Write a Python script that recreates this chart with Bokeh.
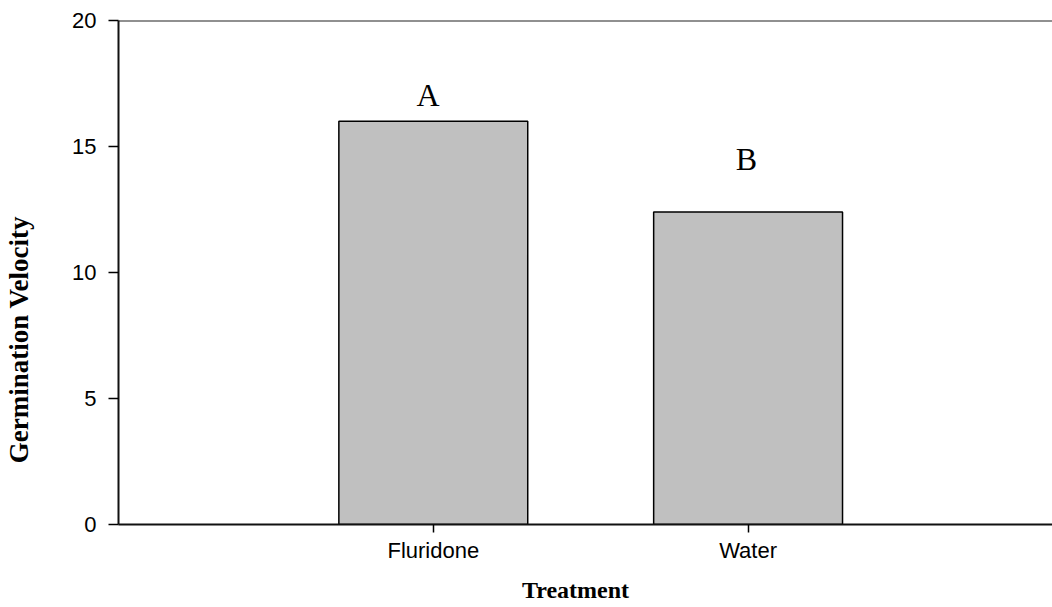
import math
from bokeh.plotting import figure
from bokeh.layouts import row, column
from bokeh.models import ColumnDataSource, Range1d, FixedTicker, Span
from bokeh.core.properties import value
from bokeh.embed import file_html
from bokeh.resources import INLINE

# Data
categories = ["Fluridone", "Water"]
velocity = [16.0, 12.4]
letters = ["A", "B"]
letter_x = [-0.017, -0.005]
letter_y = [17.06, 14.52]
y_ticks = [0, 5, 10, 15, 20]
x_title = "Treatment"
y_title = "Germination Velocity"

xs = list(range(len(categories)))

src = ColumnDataSource(dict(x=xs, top=velocity))
lab = ColumnDataSource(dict(x=[xs[i] + letter_x[i] for i in range(len(xs))], y=letter_y, t=letters))

LEFT_W = 40
MAIN_H = 575
BOTTOM_H = 607 - MAIN_H

p = figure(width=1052 - LEFT_W, height=MAIN_H, output_backend="svg", toolbar_location=None,
           x_range=Range1d(-1.0, 1.967), y_range=Range1d(0, 20),
           min_border_left=118 - LEFT_W, min_border_right=0, min_border_top=20,
           min_border_bottom=MAIN_H - 524)

p.vbar(x="x", top="top", bottom=0, width=0.6, source=src,
       fill_color="#C0C0C0", line_color="black", line_width=1.5)

p.text(x="x", y="y", text="t", source=lab, text_align="center", text_baseline="alphabetic",
       text_font=value("Liberation Serif"), text_font_size="32px", text_color="black")

p.add_layout(Span(location=20, dimension="width", line_color="#222222", line_width=2))

p.xgrid.visible = False
p.ygrid.visible = False
p.outline_line_color = None
p.background_fill_color = "white"
p.border_fill_color = "white"

# X axis
xa = p.xaxis[0]
xa.ticker = FixedTicker(ticks=xs)
xa.major_label_overrides = {i: c for i, c in enumerate(categories)}
xa.minor_tick_line_color = None
xa.major_tick_in = 0
xa.major_tick_out = 8
xa.major_tick_line_width = 1.5
xa.axis_line_width = 2
xa.axis_line_color = "#111111"
xa.major_label_text_font = "Liberation Sans"
xa.major_label_text_font_size = "22px"
xa.major_label_text_color = "black"
xa.major_label_standoff = 5

# Y axis
ya = p.yaxis[0]
ya.ticker = FixedTicker(ticks=y_ticks)
ya.minor_tick_line_color = None
ya.major_tick_in = 0
ya.major_tick_out = 10
ya.major_tick_line_width = 1.5
ya.axis_line_width = 2
ya.axis_line_color = "#111111"
ya.major_label_text_font = "Liberation Sans"
ya.major_label_text_font_size = "22px"
ya.major_label_text_color = "black"
ya.major_label_standoff = 12


def blank(w, h):
    f = figure(width=w, height=h, output_backend="svg", toolbar_location=None,
               x_range=Range1d(0, w), y_range=Range1d(h, 0),
               x_axis_type=None, y_axis_type=None, min_border=0)
    f.xgrid.visible = False
    f.ygrid.visible = False
    f.outline_line_color = None
    f.background_fill_color = "white"
    f.border_fill_color = "white"
    return f


# Y-axis title panel (placed below centre, as in the reference)
left = blank(LEFT_W, MAIN_H)
left.text(x=[18], y=[364], text=[y_title], angle=math.pi / 2,
          text_align="center", text_baseline="middle",
          text_font=value("Liberation Serif"), text_font_style="bold",
          text_font_size="27px", text_color="black")

# X-axis title panel
bottom = blank(1052, BOTTOM_H)
bottom.text(x=[575], y=[14], text=[x_title],
            text_align="center", text_baseline="middle",
            text_font=value("Liberation Serif"), text_font_style="bold",
            text_font_size="24px", text_color="black")

layout = column(row(left, p, spacing=0), bottom, spacing=0)

open("out.html", "w").write(file_html(layout, INLINE))
